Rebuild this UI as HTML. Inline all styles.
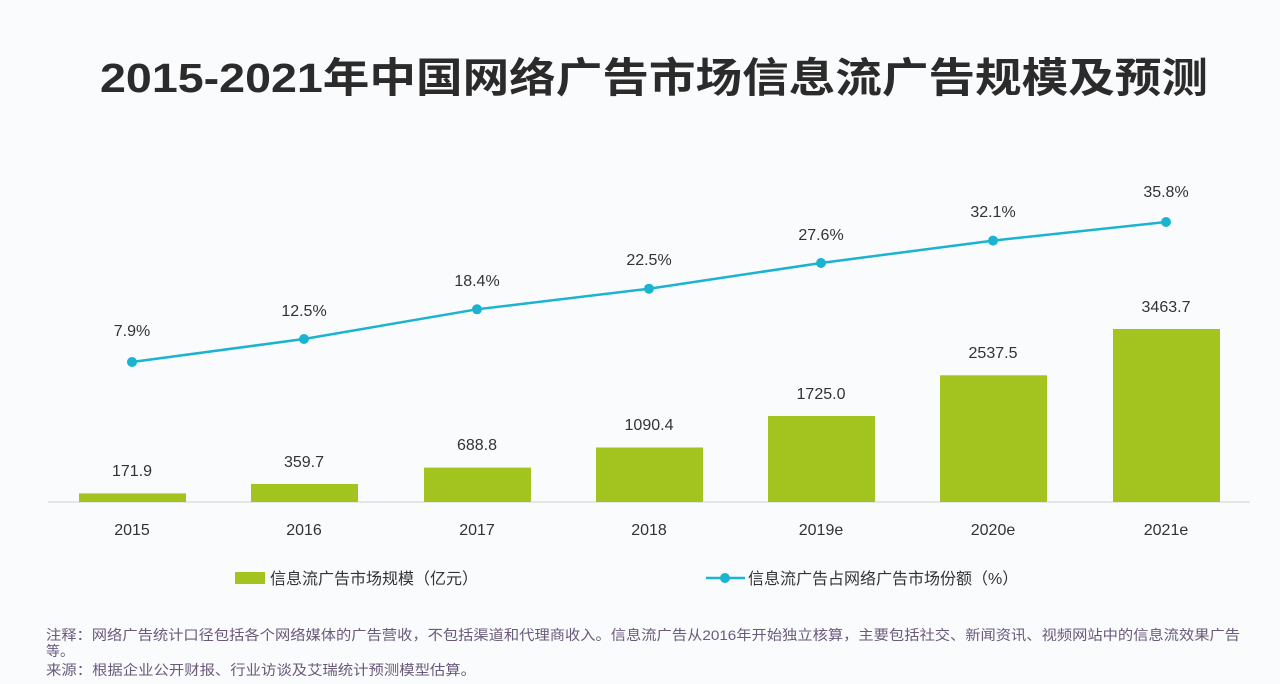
<!DOCTYPE html>
<html><head><meta charset="utf-8"><style>
body{margin:0;background:#fafbfd;}
svg{display:block}
text{font-family:"Liberation Sans","Noto Sans CJK SC",sans-serif;}
</style></head><body>
<svg width="1280" height="684" viewBox="0 0 1280 684">
<rect width="1280" height="684" fill="#fafbfd"/>
<text x="654" y="92" text-anchor="middle" font-size="41" font-weight="bold" fill="#2b2b2b" textLength="1108" lengthAdjust="spacingAndGlyphs">2015-2021年中国网络广告市场信息流广告规模及预测</text>
<line x1="48" y1="502" x2="1250" y2="502" stroke="#cfcfcf" stroke-width="1"/>
<g fill="#a3c41f">
<rect x="79" y="493.4" width="107" height="8.6"/>
<rect x="251" y="484" width="107" height="18"/>
<rect x="424" y="467.6" width="107" height="34.4"/>
<rect x="596" y="447.5" width="107" height="54.5"/>
<rect x="768" y="416" width="107" height="86"/>
<rect x="940" y="375.3" width="107" height="126.7"/>
<rect x="1113" y="329" width="107" height="173"/>
</g>
<g font-size="16" fill="#333" text-anchor="middle">
<text x="132" y="476">171.9</text>
<text x="304" y="467">359.7</text>
<text x="477" y="450">688.8</text>
<text x="649" y="430">1090.4</text>
<text x="821" y="399">1725.0</text>
<text x="993" y="358">2537.5</text>
<text x="1166" y="312">3463.7</text>
<text x="132" y="336">7.9%</text>
<text x="304" y="316">12.5%</text>
<text x="477" y="286">18.4%</text>
<text x="649" y="265">22.5%</text>
<text x="821" y="240">27.6%</text>
<text x="993" y="217">32.1%</text>
<text x="1166" y="197">35.8%</text>
<text x="132" y="535">2015</text>
<text x="304" y="535">2016</text>
<text x="477" y="535">2017</text>
<text x="649" y="535">2018</text>
<text x="821" y="535">2019e</text>
<text x="993" y="535">2020e</text>
<text x="1166" y="535">2021e</text>
</g>
<polyline points="132,362 304,339 477,309.3 649,288.7 821,263 993,240.6 1166,222" fill="none" stroke="#1ab3d0" stroke-width="2.5"/>
<g fill="#1ab3d0">
<circle cx="132" cy="362" r="5"/><circle cx="304" cy="339" r="5"/><circle cx="477" cy="309.3" r="5"/><circle cx="649" cy="288.7" r="5"/><circle cx="821" cy="263" r="5"/><circle cx="993" cy="240.6" r="5"/><circle cx="1166" cy="222" r="5"/>
</g>
<rect x="235" y="572" width="30" height="12" fill="#a3c41f"/>
<text x="270" y="584" font-size="16" fill="#333">信息流广告市场规模（亿元）</text>
<line x1="706" y1="578" x2="745" y2="578" stroke="#1ab3d0" stroke-width="2.5"/>
<circle cx="725" cy="578" r="5" fill="#1ab3d0"/>
<text x="748" y="584" font-size="16" fill="#333">信息流广告占网络广告市场份额（%）</text>
<g font-size="14" fill="#6a5a7a">
<text x="46" y="640" textLength="1194" lengthAdjust="spacingAndGlyphs">注释：网络广告统计口径包括各个网络媒体的广告营收，不包括渠道和代理商收入。信息流广告从2016年开始独立核算，主要包括社交、新闻资讯、视频网站中的信息流效果广告</text>
<text x="46" y="656">等。</text>
<text x="46" y="675" textLength="430" lengthAdjust="spacingAndGlyphs">来源：根据企业公开财报、行业访谈及艾瑞统计预测模型估算。</text>
</g>
</svg>
</body></html>
